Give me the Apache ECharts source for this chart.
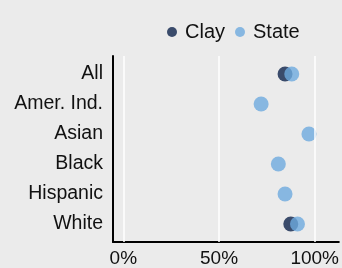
<!DOCTYPE html>
<html>
<head>
<meta charset="utf-8">
<script src="https://cdn.jsdelivr.net/npm/echarts@6/dist/echarts.min.js"></script>
<style>
  html, body { margin: 0; padding: 0; background: #ebebeb; }
  #chart { width: 342px; height: 268px; }
</style>
</head>
<body>
<div id="chart"></div>
<script>
// groups, top to bottom
var groups = ['All', 'Amer. Ind.', 'Asian', 'Black', 'Hispanic', 'White'];
// percent values (null = no dot)
var clayValues = [84.5, null, null, null, null, 87.5];
var stateValues = [88, 72, 97, 81, 84.5, 91];
var xTicks = [0, 50, 100];

function toPoints(values) {
  var out = [];
  values.forEach(function(v, i) {
    if (v != null) out.push([v, i]);
  });
  return out;
}

var chart = echarts.init(document.getElementById('chart'));

var option = {
  backgroundColor: '#ebebeb',
  textStyle: { fontFamily: 'Liberation Sans, Arial, sans-serif' },
  legend: {
    data: ['Clay', 'State'],
    icon: 'circle',
    itemWidth: 10,
    itemHeight: 10,
    itemGap: 10,
    padding: 0,
    left: 167,
    top: 22,
    textStyle: { fontSize: 20, color: '#111', padding: [0, 0, 0, 3] }
  },
  grid: { left: 113, right: 0, top: 56, bottom: 26 },
  xAxis: {
    type: 'value',
    min: -5.4,
    max: 112.6,
    axisLine: { show: true, onZero: false, lineStyle: { color: '#000', width: 2 } },
    axisTick: { show: false },
    axisLabel: {
      customValues: xTicks,
      formatter: function(v) { return v + '%'; },
      fontSize: 19,
      color: '#111',
      margin: 7
    },
    splitLine: { show: false }
  },
  yAxis: {
    type: 'value',
    inverse: true,
    min: -0.6,
    max: 5.6,
    axisLine: { show: true, onZero: false, lineStyle: { color: '#000', width: 2 } },
    axisTick: { show: false },
    axisLabel: {
      customValues: [0, 1, 2, 3, 4, 5],
      formatter: function(v) { return groups[v]; },
      fontSize: 19.5,
      color: '#111',
      margin: 10
    },
    splitLine: { show: false }
  },
  series: [
    {
      // vertical gridlines, kept under the dots
      name: 'grid',
      type: 'scatter',
      data: [],
      z: 1,
      silent: true,
      markLine: {
        symbol: 'none',
        silent: true,
        label: { show: false },
        lineStyle: { color: '#fff', width: 1.5, type: 'solid' },
        data: xTicks.map(function(t) { return { xAxis: t }; })
      }
    },
    {
      name: 'Clay',
      type: 'scatter',
      symbolSize: 15,
      itemStyle: { color: '#3a4b6b', opacity: 1 },
      data: toPoints(clayValues),
      z: 2
    },
    {
      name: 'State',
      type: 'scatter',
      symbolSize: 15,
      itemStyle: { color: 'rgb(110,170,222)', opacity: 0.8 },
      data: toPoints(stateValues),
      z: 3
    }
  ]
};

chart.setOption(option);
</script>
</body>
</html>
